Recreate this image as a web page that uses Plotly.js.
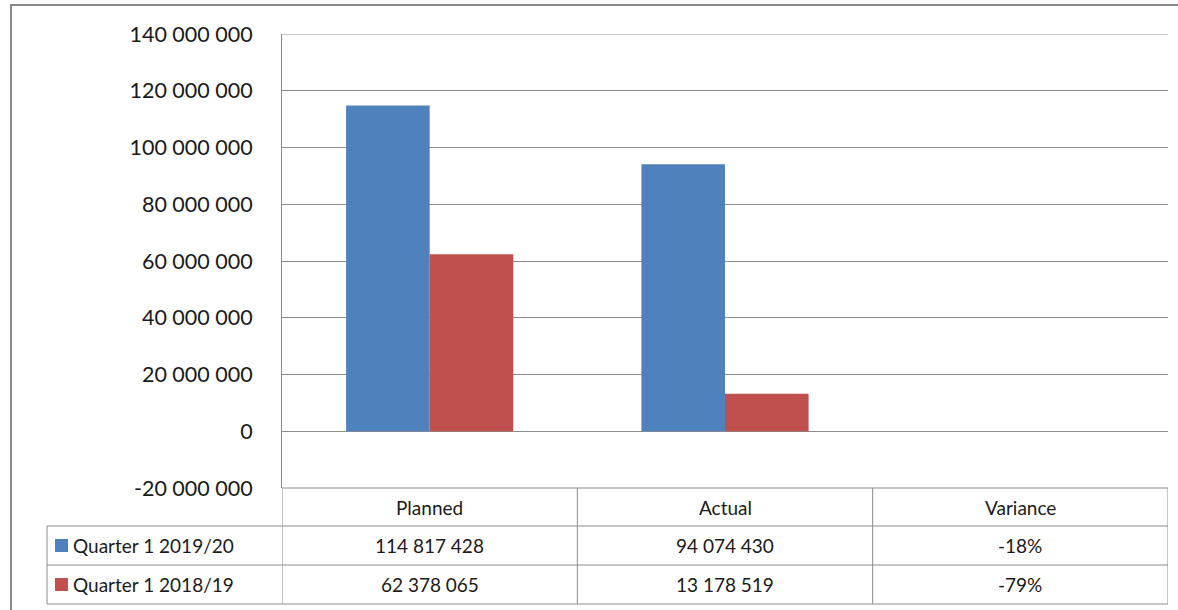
<!DOCTYPE html>
<html>
<head>
<meta charset="utf-8">
<script src="https://cdn.plot.ly/plotly-3.0.1.min.js"></script>
<style>
  html, body { margin: 0; padding: 0; background: #ffffff; }
  #chart { width: 1178px; height: 610px; }
</style>
</head>
<body>
<div id="chart"></div>
<script>
// ---- data ----
const categories = ['Planned', 'Actual', 'Variance'];
const seriesNames = ['Quarter 1 2019/20', 'Quarter 1 2018/19'];
const q1_2019_20 = [114817428, 94074430];
const q1_2018_19 = [62378065, 13178519];
const variance = [-0.18, -0.79];   // Actual vs Planned, per series
const tickValues = [-20000000, 0, 20000000, 40000000, 60000000, 80000000, 100000000, 120000000, 140000000];

// ---- style ----
const colors = ['#4F81BD', '#C0504D'];
const lineColor = '#8c8c8c';
const textColor = '#1a1a1a';
const font = 'Lato, "Open Sans", sans-serif';

function fmtNum(v) {
  return Math.round(v).toString().replace(/\B(?=(\d{3})+(?!\d))/g, ' ');
}
function fmtPct(v) {
  return Math.round(v * 100) + '%';
}
const tickText = tickValues.map(fmtNum);

// plot box in pixels (used to place the data table beneath it)
const W = 1178, H = 610;
const M = { l: 282, r: 10, t: 34, b: 122 };
const PW = W - M.l - M.r, PH = H - M.t - M.b;
const px2x = px => (px - M.l) / PW;
const px2y = py => (H - M.b - py) / PH;

const seriesValues = [q1_2019_20, q1_2018_19];

const traces = seriesValues.map((vals, i) => ({
  type: 'bar',
  name: seriesNames[i],
  x: categories,
  y: vals.concat([variance[i]]),
  marker: { color: colors[i], line: { width: 0 } },
  hoverinfo: 'x+y+name'
}));

// data table rows (pixel rows under the plot)
const headerTop = 488, row1Top = 526, row2Top = 565, tableBottom = 604;
const tableLeft = 47;

const shapes = [];
const annotations = [];

// gridline at the top of the value range
shapes.push({
  type: 'line', xref: 'paper', yref: 'y',
  x0: 0, x1: 1, y0: tickValues[tickValues.length - 1], y1: tickValues[tickValues.length - 1],
  line: { color: lineColor, width: 1 }
});

const hline = (py, x0px) => shapes.push({
  type: 'line', xref: 'paper', yref: 'paper',
  x0: px2x(x0px), x1: 1, y0: px2y(py), y1: px2y(py),
  line: { color: lineColor, width: 1 }
});
hline(headerTop, M.l);
hline(row1Top, tableLeft);
hline(row2Top, tableLeft);
hline(tableBottom, tableLeft);

// column separators follow the category axis
for (let i = 0; i <= categories.length; i++) {
  shapes.push({
    type: 'line', xref: 'x', yref: 'paper',
    x0: i - 0.5, x1: i - 0.5, y0: px2y(tableBottom), y1: px2y(headerTop),
    line: { color: lineColor, width: 1 }
  });
}
shapes.push({
  type: 'line', xref: 'paper', yref: 'paper',
  x0: px2x(tableLeft), x1: px2x(tableLeft), y0: px2y(tableBottom), y1: px2y(row1Top),
  line: { color: lineColor, width: 1 }
});

// outer chart frame
shapes.push({
  type: 'rect', xref: 'paper', yref: 'paper',
  x0: px2x(11), x1: px2x(1190), y0: px2y(620), y1: px2y(5),
  line: { color: '#888888', width: 2 }, fillcolor: 'rgba(0,0,0,0)'
});

// header labels
categories.forEach((c, i) => annotations.push({
  xref: 'x', yref: 'paper', x: i, y: px2y((headerTop + row1Top) / 2 + 1),
  text: c, showarrow: false, xanchor: 'center', yanchor: 'middle',
  font: { family: font, size: 19, color: textColor }
}));

// series rows: legend key, name, values, variance
const rowMid = [(row1Top + row2Top) / 2, (row2Top + tableBottom) / 2];
seriesValues.forEach((vals, s) => {
  const yMid = px2y(rowMid[s]);
  shapes.push({
    type: 'rect', xref: 'paper', yref: 'paper',
    x0: px2x(55), x1: px2x(68), y0: px2y(rowMid[s] + 6.5), y1: px2y(rowMid[s] - 6.5),
    fillcolor: colors[s], line: { width: 0 }
  });
  annotations.push({
    xref: 'paper', yref: 'paper', x: px2x(71), y: yMid,
    text: seriesNames[s], showarrow: false, xanchor: 'left', yanchor: 'middle',
    font: { family: font, size: 19, color: textColor }
  });
  const cells = vals.map(fmtNum).concat([fmtPct(variance[s])]);
  cells.forEach((t, i) => annotations.push({
    xref: 'x', yref: 'paper', x: i, y: yMid,
    text: t, showarrow: false, xanchor: 'center', yanchor: 'middle',
    font: { family: font, size: 19, color: textColor }
  }));
});

const layout = {
  width: W, height: H,
  margin: { l: M.l, r: M.r, t: M.t, b: M.b, pad: 0 },
  paper_bgcolor: '#ffffff', plot_bgcolor: '#ffffff',
  showlegend: false,
  barmode: 'group',
  bargap: 0.434,
  bargroupgap: 0,
  font: { family: font, color: textColor },
  xaxis: {
    range: [-0.5, categories.length - 0.5],
    showticklabels: false, showgrid: false, zeroline: false, showline: false,
    fixedrange: true
  },
  yaxis: {
    range: [tickValues[0], tickValues[tickValues.length - 1]],
    tickvals: tickValues, ticktext: tickText,
    tickfont: { family: font, size: 21.5, color: textColor },
    ticks: '', ticklabelstandoff: 24,
    showgrid: true, gridcolor: lineColor, gridwidth: 1,
    zeroline: false,
    showline: true, linecolor: lineColor, linewidth: 1,
    fixedrange: true
  },
  shapes: shapes,
  annotations: annotations
};

Plotly.newPlot('chart', traces, layout, { displayModeBar: false, staticPlot: true });
</script>
</body>
</html>
